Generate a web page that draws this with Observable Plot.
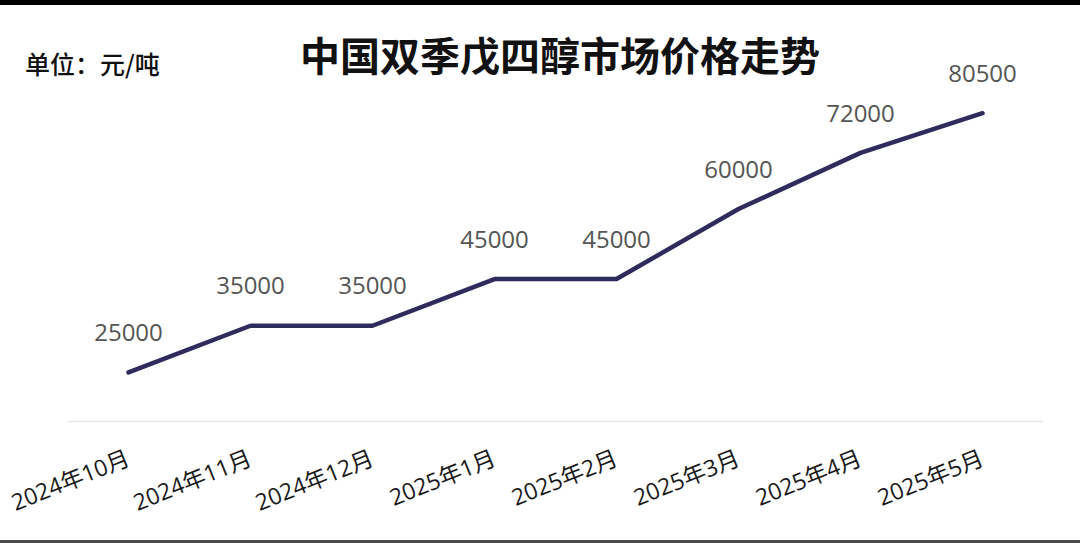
<!DOCTYPE html>
<html><head><meta charset="utf-8">
<script src="https://cdn.jsdelivr.net/npm/d3@7"></script>
<script src="https://cdn.jsdelivr.net/npm/@observablehq/plot@0.6"></script>
<style>
html,body{margin:0;padding:0;background:#fff;}
#wrap{position:relative;width:1080px;height:543px;overflow:hidden;background:#fff;}
#topband{position:absolute;left:0;top:0;width:1080px;height:5px;background:#000;z-index:2;}
#botband{position:absolute;left:0;top:540px;width:1080px;height:3px;background:#4a4a4a;z-index:2;}
#title{position:absolute;left:560px;top:32px;transform:translateX(-50%);white-space:nowrap;
  font-family:"Noto Sans CJK SC",sans-serif;font-weight:700;font-size:40px;line-height:44px;color:#111;z-index:2;}
#unit{position:absolute;left:25px;top:48px;white-space:nowrap;
  font-family:"Noto Sans CJK SC",sans-serif;font-weight:500;font-size:25px;line-height:30px;color:#111;z-index:2;}
#chart{position:absolute;left:0;top:0;}
</style></head>
<body>
<div id="wrap">
  <div id="topband"></div>
  <div id="title">中国双季戊四醇市场价格走势</div>
  <div id="unit">单位：元/吨</div>
  <div id="chart"></div>
  <div id="botband"></div>
</div>
<script>
const months = ["2024年10月","2024年11月","2024年12月","2025年1月","2025年2月","2025年3月","2025年4月","2025年5月"];
const prices = [25000,35000,35000,45000,45000,60000,72000,80500];
const yDomain = [14500, 92000];

const data = months.map((m, i) => ({month: m, price: prices[i]}));

const chart = Plot.plot({
  width: 1080, height: 543,
  marginTop: 59, marginBottom: 122, marginLeft: 67, marginRight: 37,
  style: {background: "transparent", fontFamily: "'Open Sans','Noto Sans CJK SC',sans-serif", overflow: "visible"},
  x: {type: "point", domain: months, padding: 0.5, label: null},
  y: {domain: yDomain, axis: null, label: null},
  marks: [
    Plot.ruleY([yDomain[0]], {stroke: "#e6e6e6", strokeWidth: 1.5}),
    Plot.line(data, {x: "month", y: "price", stroke: "#2f2b5c", strokeWidth: 4.5, strokeLinecap: "round", strokeLinejoin: "round"}),
    Plot.text(data, {x: "month", y: "price", text: d => String(d.price), dy: -39, fill: "#555555", fontSize: 24, lineAnchor: "middle"}),
    Plot.axisX({tickSize: 0, tickRotate: -22, tickPadding: 36, dx: 0, fontSize: 23, fill: "#1a1a1a", textAnchor: "end", lineAnchor: "middle", label: null})
  ]
});
document.getElementById("chart").appendChild(chart);
</script>
</body></html>
